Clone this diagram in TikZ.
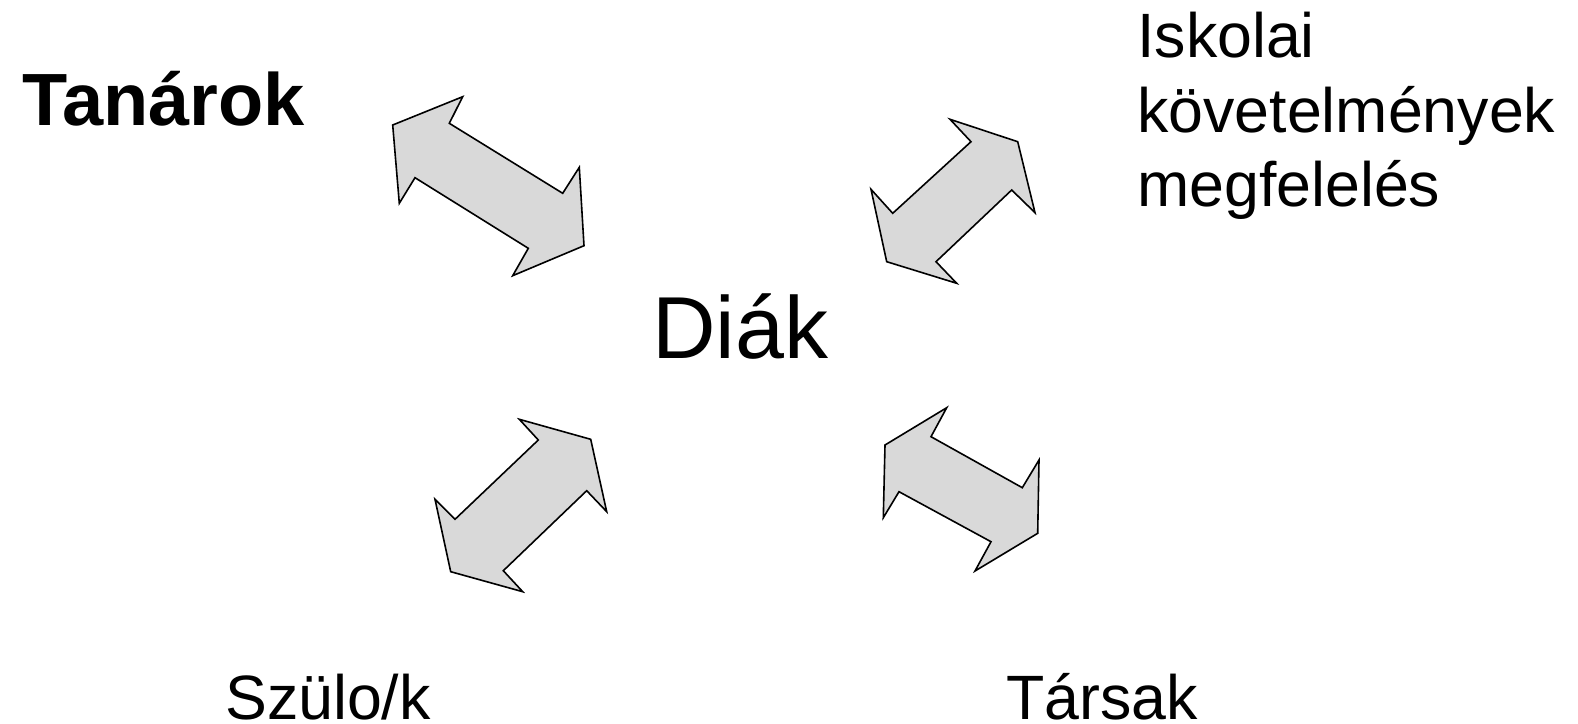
\documentclass[tikz,border=0pt]{standalone}
\usepackage{fontspec}
\setmainfont{Liberation Sans}
\definecolor{arrowgray}{RGB}{217,217,217}
\tikzset{
  dblarrow/.style={draw=black, fill=arrowgray, line width=1.2pt, line join=miter},
  label/.style={anchor=base west, inner sep=0pt, font=\fontsize{47}{56}\selectfont}
}

\begin{document}
\begin{tikzpicture}[x=0.75pt,y=0.75pt,yscale=-1,xscale=1]
\useasboundingbox (0,0) rectangle (1578,724);

%Shape: Double Arrow [id:tanarok-diak]
\draw [dblarrow] (392.7,125) -- (462.7,96.7) -- (449.3,123.3) -- (562.7,193.3) -- (579.3,167.3) -- (584,245.7) -- (512.7,275.7) -- (528.3,248.3) -- (415,177.7) -- (399.3,203.3) -- cycle ;
%Shape: Double Arrow [id:iskolai-diak]
\draw [dblarrow] (950,119.3) -- (1017.7,141.7) -- (1035,212.7) -- (1011.7,190) -- (936,261.7) -- (956.7,283.3) -- (886.7,261.7) -- (871,189.3) -- (892.7,213.3) -- (971,141.7) -- cycle ;
%Shape: Double Arrow [id:szulok-diak]
\draw [dblarrow] (519.3,419.3) -- (590.7,439.3) -- (606.7,511.7) -- (586.7,490.7) -- (503.3,570.7) -- (522.7,591.7) -- (450.7,571.7) -- (435,499.3) -- (455,519.3) -- (538.3,440) -- cycle ;
%Shape: Double Arrow [id:tarsak-diak]
\draw [dblarrow] (885,445) -- (946.7,407.7) -- (931,436.7) -- (1022.3,487.7) -- (1039,460) -- (1037.7,533.3) -- (975,571) -- (991,541.7) -- (899,491.7) -- (883.3,517.7) -- cycle ;

% Text Node
\node [label, font=\fontsize{55.5}{60}\bfseries\selectfont] (tanarok) at (22,125.8) {Tanárok};
% Text Node
\node [label, font=\fontsize{66}{76}\selectfont] (diak) at (652,358) {Diák};
% Text Node (base = last line)
\node [label, align=left] (iskolai) at (1137,206.8) {Iskolai\\követelmények\\megfelelés};
% Text Node
\node [label] (szulok) at (225,719) {Szülo/k};
% Text Node
\node [label] (tarsak) at (1006,719) {Társak};

\end{tikzpicture}
\end{document}
